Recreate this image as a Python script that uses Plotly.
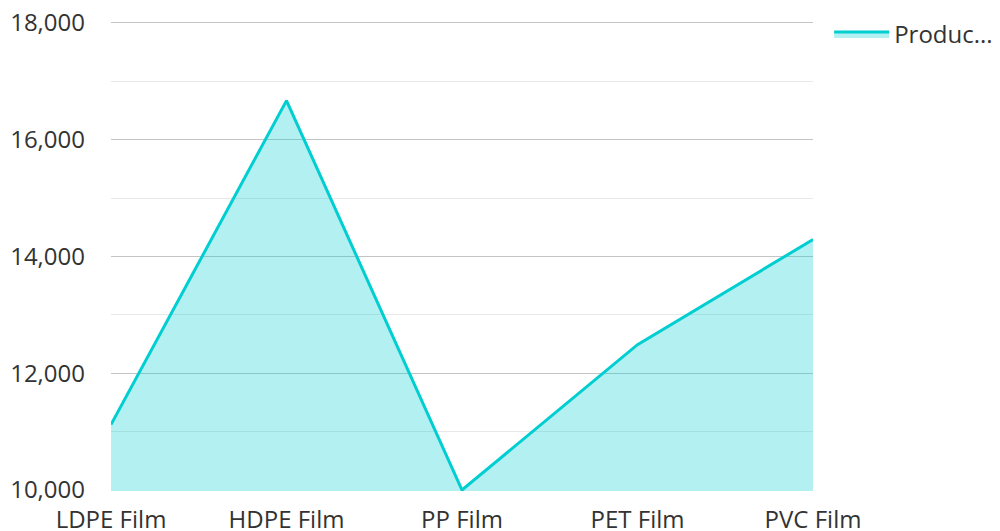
import plotly.graph_objects as go

categories = ["LDPE Film", "HDPE Film", "PP Film", "PET Film", "PVC Film"]
values = [11120, 16670, 10000, 12490, 14290]
series_name = "Produc..."
y_ticks = [10000, 12000, 14000, 16000, 18000]
y_tick_labels = ["10,000", "12,000", "14,000", "16,000", "18,000"]

fig = go.Figure()
fig.add_trace(go.Scatter(
    x=categories, y=values, name=series_name,
    mode="lines", fill="tozeroy",
    line=dict(color="#00CED1", width=3),
    fillcolor="rgba(0,206,209,0.30)",
))

fig.update_layout(
    width=1000, height=531,
    margin=dict(l=103, r=195, t=4, b=48, autoexpand=False),
    paper_bgcolor="white", plot_bgcolor="white",
    font=dict(family="Open Sans", size=24, color="#333333"),
    showlegend=True,
    legend=dict(x=1.023, y=1.0, xanchor="left", yanchor="top",
                font=dict(size=24, color="#333333"),
                bgcolor="rgba(0,0,0,0)", itemwidth=55),
    xaxis=dict(range=[0, 4], showgrid=False, zeroline=False, showline=False,
               ticks="", tickfont=dict(size=24), ticklabelstandoff=12,
               automargin=False),
    yaxis=dict(range=[9983, 18188], tickvals=y_ticks, ticktext=y_tick_labels,
               showgrid=True, gridcolor="#c4c4c4", gridwidth=1,
               zeroline=False, showline=False, ticks="",
               ticklabelstandoff=25, tickfont=dict(size=24), automargin=False,
               ticklabeloverflow="allow",
               minor=dict(dtick=1000, tick0=10000, showgrid=True,
                          gridcolor="#e8e8e8", gridwidth=1)),
)

fig.write_html("out.html")
